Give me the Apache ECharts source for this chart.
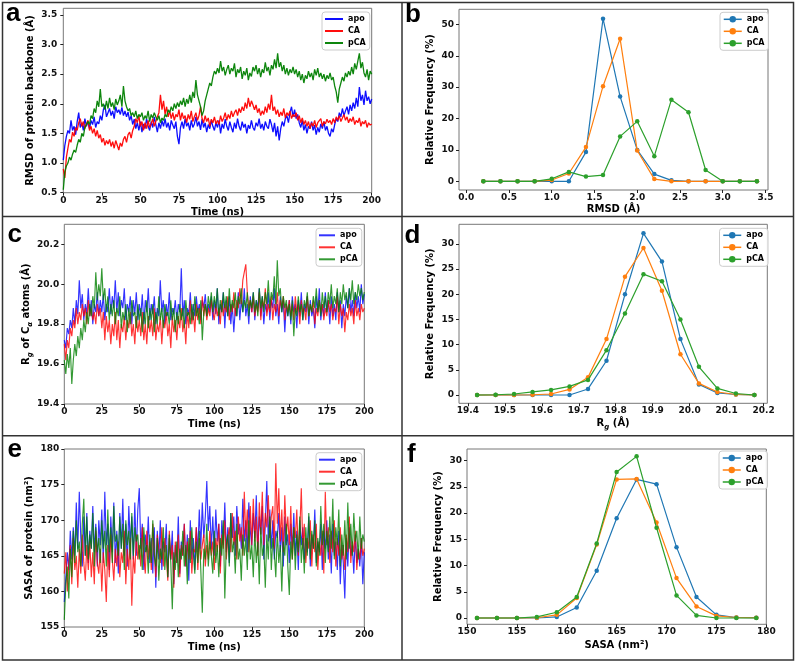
<!DOCTYPE html>
<html><head><meta charset="utf-8">
<script src="https://cdn.jsdelivr.net/npm/echarts@6/dist/echarts.min.js"></script>
<style>html,body{margin:0;padding:0;background:#fff}#c{width:797px;height:663px}</style>
</head><body><div id="c"></div><script>
// ---------------- data ----------------
const groupNames = ['apo', 'CA', 'pCA'];
const timeStepNs = 1; // sampling interval of the time series (0..200 ns)

// (a) RMSD of protein backbone (Å) vs time
const rmsdApo = [
1.05,1.30,1.45,1.55,1.50,1.72,1.55,1.62,1.48,1.70,1.85,1.60,1.68,1.55,1.75,1.62,1.70,1.58,1.72,1.65,1.78,1.60,1.70,1.66,1.80,
1.72,1.90,1.98,1.78,1.85,1.92,1.80,1.88,1.75,1.95,1.85,1.90,1.82,1.94,1.80,1.88,1.78,1.86,1.72,1.80,1.65,1.74,1.58,1.68,1.55,
1.70,1.52,1.66,1.58,1.75,1.62,1.55,1.70,1.60,1.78,1.65,1.52,1.68,1.58,1.72,1.62,1.75,1.60,1.68,1.55,1.72,1.64,1.58,1.70,1.45,
1.32,1.60,1.70,1.58,1.75,1.62,1.68,1.55,1.72,1.60,1.66,1.78,1.62,1.70,1.56,1.74,1.60,1.68,1.52,1.65,1.58,1.72,1.62,1.55,1.68,
1.60,1.72,1.50,1.66,1.58,1.74,1.62,1.55,1.70,1.60,1.52,1.68,1.58,1.75,1.62,1.55,1.70,1.60,1.66,1.50,1.64,1.58,1.72,1.60,1.55,
1.68,1.62,1.75,1.58,1.66,1.55,1.70,1.62,1.58,1.74,1.65,1.52,1.68,1.45,1.62,1.38,1.58,1.70,1.62,1.75,1.80,1.68,1.85,1.95,1.78,
1.90,1.75,1.82,1.68,1.60,1.72,1.55,1.65,1.50,1.62,1.58,1.70,1.55,1.64,1.48,1.60,1.52,1.66,1.58,1.70,1.55,1.62,1.50,1.45,1.58,
1.52,1.65,1.75,1.70,1.85,1.78,1.92,1.80,1.88,1.95,1.82,1.98,1.88,2.02,1.92,2.10,1.95,2.28,2.05,2.15,1.98,2.22,2.05,2.12,2.00,2.08];
const rmsdCA = [
0.90,0.75,1.10,1.25,1.40,1.35,1.52,1.45,1.60,1.55,1.68,1.75,1.62,1.70,1.58,1.66,1.72,1.55,1.62,1.50,1.58,1.45,1.55,1.42,1.48,
1.35,1.42,1.30,1.38,1.32,1.40,1.28,1.36,1.25,1.38,1.30,1.22,1.34,1.28,1.40,1.45,1.35,1.48,1.52,1.42,1.55,1.62,1.75,1.68,1.80,
1.62,1.70,1.55,1.68,1.58,1.72,1.60,1.66,1.75,1.62,1.70,1.78,1.85,2.15,1.90,2.05,1.82,1.95,1.78,1.88,1.75,1.85,1.72,1.82,1.78,
1.90,1.72,1.85,1.75,1.80,1.68,1.82,1.74,1.88,1.70,1.78,1.85,1.72,1.80,1.95,1.75,1.68,1.80,1.70,1.76,1.62,1.74,1.68,1.78,1.66,
1.72,1.65,1.80,1.70,1.76,1.85,1.72,1.82,1.75,1.88,1.78,1.85,1.90,1.80,1.92,1.85,1.95,1.88,2.02,1.92,2.10,1.95,2.05,1.98,1.90,
1.98,1.85,1.92,1.80,1.88,1.82,1.95,1.85,2.00,1.90,2.15,1.88,1.95,1.82,1.90,1.78,1.86,1.80,1.92,1.76,1.85,1.80,1.88,1.75,1.82,
1.78,1.85,1.72,1.80,1.68,1.76,1.65,1.72,1.62,1.70,1.58,1.68,1.62,1.72,1.60,1.68,1.65,1.75,1.62,1.70,1.66,1.74,1.68,1.72,1.65,
1.75,1.68,1.78,1.72,1.80,1.70,1.76,1.82,1.72,1.78,1.68,1.75,1.70,1.78,1.65,1.72,1.68,1.76,1.62,1.70,1.66,1.72,1.60,1.68,1.64,1.66];
const rmsdPCA = [
0.55,0.85,0.95,1.00,1.10,1.05,1.15,1.22,1.18,1.30,1.40,1.35,1.50,1.45,1.60,1.58,1.70,1.65,1.80,1.75,1.92,1.85,2.05,1.95,2.25,
1.95,2.00,1.90,2.05,1.92,2.10,1.95,2.02,1.90,2.08,1.98,2.05,2.15,1.95,2.30,2.05,1.95,1.88,1.92,1.80,1.85,1.78,1.88,1.75,1.82,
1.78,1.85,1.72,1.80,1.75,1.88,1.70,1.82,1.76,1.85,1.78,1.72,1.80,1.68,1.76,1.72,1.82,1.78,1.90,1.85,1.95,1.88,2.00,1.92,2.02,
1.95,2.05,1.98,2.10,1.95,2.08,2.00,2.15,2.02,2.20,2.10,2.40,2.15,2.05,1.95,1.80,1.88,2.05,2.15,2.25,2.35,2.30,2.45,2.55,2.50,
2.60,2.52,2.72,2.55,2.62,2.48,2.58,2.65,2.50,2.60,2.55,2.68,2.45,2.58,2.52,2.62,2.42,2.55,2.48,2.60,2.40,2.52,2.46,2.62,2.55,
2.65,2.50,2.60,2.45,2.58,2.52,2.70,2.55,2.62,2.48,2.65,2.58,2.75,2.60,2.85,2.62,2.70,2.55,2.65,2.50,2.60,2.48,2.58,2.52,2.62,
2.50,2.58,2.45,2.55,2.40,2.50,2.35,2.48,2.42,2.55,2.45,2.52,2.40,2.58,2.48,2.60,2.45,2.52,2.42,2.50,2.38,2.48,2.42,2.52,2.40,
2.45,2.30,2.20,2.02,2.25,2.35,2.45,2.38,2.52,2.45,2.55,2.48,2.62,2.50,2.68,2.58,2.72,2.85,2.60,2.70,2.52,2.45,2.58,2.40,2.55,2.50];

// (b) RMSD distribution
const rmsdBins = [0.2,0.4,0.6,0.8,1.0,1.2,1.4,1.6,1.8,2.0,2.2,2.4,2.6,2.8,3.0,3.2,3.4];
const rmsdFreqApo = [0,0,0,0,0,0,9.3,51.8,27.0,10.0,2.3,0.3,0,0,0,0,0];
const rmsdFreqCA  = [0,0,0,0,0.4,2.5,10.9,30.3,45.4,9.8,0.7,0,0,0,0,0,0];
const rmsdFreqPCA = [0,0,0,0,0.8,3.0,1.5,2.0,14.3,19.1,8.0,26.0,22.0,3.6,0,0,0];

// (c) Radius of gyration of C-alpha atoms (Å) vs time
const rgApo = [
19.72,19.68,19.78,19.75,19.82,19.78,19.88,19.80,19.92,19.85,20.02,19.88,19.95,19.82,19.90,19.85,19.98,19.84,19.92,19.80,19.90,19.86,19.96,19.84,19.92,
19.86,19.95,19.82,19.90,19.86,19.98,19.85,19.94,19.88,20.02,19.86,19.96,19.84,19.92,19.88,19.98,19.82,19.90,19.86,19.94,19.80,19.92,19.85,19.96,19.82,
19.90,19.84,19.95,19.80,19.92,19.86,19.98,19.82,19.90,19.85,19.94,19.80,19.88,19.84,20.02,19.86,19.92,19.80,19.90,19.84,19.96,19.82,19.88,19.85,19.92,
19.82,19.90,19.86,20.08,19.84,19.92,19.80,19.88,19.85,19.96,19.82,19.90,19.84,19.94,19.86,19.90,19.82,19.92,19.88,19.95,19.84,19.90,19.86,19.94,19.82,
19.92,19.85,19.98,19.80,19.90,19.86,19.96,19.78,19.92,19.84,19.94,19.80,19.90,19.76,19.88,19.84,19.96,19.82,19.92,19.86,19.98,19.84,19.90,19.80,19.94,
19.86,19.96,19.82,19.92,19.88,19.98,19.84,19.94,19.80,19.90,19.86,19.96,19.82,19.92,19.88,19.98,19.84,19.90,19.80,19.94,19.86,19.92,19.76,19.90,19.84,
19.92,19.80,19.94,19.86,19.90,19.78,19.92,19.84,19.96,19.82,19.90,19.86,19.94,19.80,19.92,19.84,19.88,19.78,19.94,19.86,19.98,19.82,19.90,19.84,19.96,
19.86,19.92,19.80,19.94,19.84,19.90,19.82,19.96,19.86,19.92,19.78,19.90,19.84,19.94,19.88,19.98,19.86,19.92,19.84,19.96,19.88,19.94,19.86,20.00,19.90,19.95];
const rgCA = [
19.70,19.62,19.72,19.68,19.78,19.74,19.82,19.78,19.88,19.80,19.86,19.82,19.90,19.84,19.88,19.80,19.92,19.84,19.88,19.82,19.86,19.80,19.90,19.84,19.88,
19.78,19.86,19.72,19.84,19.76,19.82,19.70,19.80,19.74,19.86,19.72,19.82,19.68,19.80,19.76,19.84,19.72,19.82,19.78,19.86,19.74,19.80,19.70,19.84,19.76,
19.82,19.74,19.86,19.72,19.80,19.70,19.84,19.76,19.82,19.74,19.88,19.72,19.80,19.76,19.84,19.70,19.82,19.78,19.86,19.74,19.80,19.68,19.84,19.76,19.82,
19.72,19.84,19.78,19.88,19.76,19.82,19.70,19.86,19.78,19.92,19.80,19.86,19.76,19.90,19.82,19.88,19.80,19.94,19.84,19.90,19.82,19.88,19.84,19.92,19.86,
19.82,19.90,19.84,19.88,19.80,19.92,19.84,19.90,19.86,19.94,19.82,19.90,19.86,19.96,19.84,19.92,19.88,19.98,19.90,20.02,20.06,20.10,19.96,19.88,19.92,
19.86,19.94,19.84,19.90,19.86,19.96,19.82,19.92,19.88,19.98,19.84,19.90,19.86,19.94,19.82,19.90,19.86,19.96,19.84,19.92,19.88,19.94,19.82,19.90,19.86,
19.92,19.84,19.90,19.82,19.94,19.86,19.90,19.80,19.92,19.86,19.88,19.82,19.94,19.84,19.90,19.86,19.92,19.80,19.88,19.84,19.92,19.86,19.90,19.82,19.88,
19.84,19.92,19.86,19.90,19.82,19.88,19.86,19.94,19.80,19.90,19.84,19.88,19.76,19.86,19.82,19.90,19.84,19.88,19.80,19.92,19.84,19.88,19.82,19.90,19.86,19.88];
const rgPCA = [
19.62,19.55,19.65,19.58,19.68,19.50,19.62,19.70,19.64,19.74,19.68,19.78,19.72,19.82,19.76,19.86,19.80,19.90,19.84,19.94,19.88,20.06,19.92,20.00,19.94,
20.08,19.92,19.98,19.86,19.94,19.82,19.90,19.84,19.92,19.80,19.88,19.84,19.94,19.78,19.86,19.82,19.90,19.76,19.88,19.80,19.92,19.84,19.86,19.78,19.90,
19.82,19.88,19.76,19.86,19.80,19.92,19.78,19.88,19.82,19.90,19.76,19.86,19.80,19.94,19.82,19.88,19.78,19.90,19.84,19.86,19.80,19.92,19.82,19.88,19.76,
19.86,19.80,19.90,19.82,19.88,19.78,19.92,19.84,19.86,19.80,19.90,19.82,19.94,19.84,19.88,19.80,19.92,19.72,19.86,19.90,19.84,19.94,19.88,19.96,19.86,
19.94,19.88,19.98,19.84,19.92,19.86,19.96,19.88,19.94,19.84,19.98,19.86,19.92,19.88,19.96,19.84,19.94,19.90,19.98,19.86,19.92,19.88,19.96,19.84,19.92,
19.88,19.96,19.86,19.92,19.84,19.98,19.88,19.94,19.86,19.96,19.90,20.02,19.88,19.96,19.92,20.04,19.90,20.12,19.94,19.98,19.86,19.94,19.88,19.92,19.84,
19.90,19.82,19.92,19.74,19.88,19.84,19.94,19.86,19.90,19.82,19.92,19.88,19.96,19.84,19.90,19.86,19.94,19.88,19.98,19.86,19.92,19.84,19.96,19.88,19.94,
19.86,19.96,19.90,20.00,19.88,19.94,19.90,19.98,19.86,19.96,19.90,20.00,19.92,19.96,19.88,19.98,19.92,20.02,19.90,19.96,19.92,20.00,19.94,19.98,19.92,19.96];

// (d) Rg distribution
const rgBins = [19.425,19.475,19.525,19.575,19.625,19.675,19.725,19.775,19.825,19.875,19.925,19.975,20.025,20.075,20.125,20.175];
const rgFreqApo = [0,0,0,0,0,0,1.2,6.8,20.0,32.1,26.5,11.1,2.1,0.4,0.1,0];
const rgFreqCA  = [0,0,0,0.05,0.2,1.1,3.5,11.1,23.5,29.2,20.7,8.1,2.3,0.6,0.1,0];
const rgFreqPCA = [0,0.05,0.2,0.6,1.0,1.7,3.0,8.9,16.2,24.0,22.6,15.0,5.6,1.3,0.3,0];

// (e) SASA of protein (nm²) vs time
const sasaApo = [
158.5,162.0,165.5,163.0,168.5,164.5,169.0,165.0,172.5,166.0,174.0,167.5,163.5,170.5,165.0,171.0,164.0,168.5,166.0,172.0,165.5,169.5,163.5,170.0,166.5,
171.5,164.0,174.0,166.5,169.5,163.0,170.5,165.5,172.5,164.0,168.5,162.5,171.0,166.0,173.0,165.0,169.5,163.5,172.0,166.5,170.5,164.5,172.5,165.0,171.5,
174.5,166.0,169.5,163.0,168.0,165.5,170.5,164.0,167.5,162.5,169.0,160.5,168.5,164.5,170.0,163.0,167.0,165.5,169.5,162.0,167.5,164.5,168.5,161.0,166.5,
164.0,170.5,162.5,167.0,165.0,169.5,163.5,168.0,161.5,170.0,164.5,167.5,163.0,169.0,165.5,171.5,166.0,172.5,167.5,170.5,175.5,168.5,172.0,166.0,170.5,
165.0,171.5,167.0,169.5,163.5,170.0,166.5,172.5,165.5,169.0,164.0,171.0,167.5,170.5,165.0,172.0,168.0,169.5,166.0,173.0,167.0,170.0,165.5,172.5,168.5,
166.5,171.0,167.5,173.5,165.5,170.5,168.0,172.0,164.5,169.5,175.5,167.0,171.5,166.0,170.0,164.5,168.5,167.5,171.0,165.5,169.0,163.5,170.5,166.5,168.0,
164.0,169.5,166.0,171.0,165.0,168.5,163.0,170.0,166.5,169.0,164.5,167.5,165.5,170.5,163.5,168.0,166.0,171.5,164.0,167.0,165.5,169.5,163.0,168.5,166.0,
170.0,164.5,168.0,162.5,169.5,165.0,167.0,163.0,168.5,161.0,166.5,164.0,159.0,167.5,163.5,169.0,165.0,166.5,162.5,168.0,164.0,166.0,163.5,167.5,161.0,165.5];
const sasaCA = [
162.5,165.5,160.0,164.0,166.5,161.0,167.5,163.0,165.0,160.5,166.0,162.5,168.0,164.0,161.5,166.5,163.0,167.0,162.0,165.5,161.0,168.5,164.0,162.5,166.0,
160.0,165.5,163.0,158.5,166.5,162.0,168.0,164.5,161.5,166.0,163.5,167.0,162.0,165.5,164.0,168.5,161.0,166.0,163.0,167.5,158.0,165.0,162.5,168.0,164.5,
166.5,163.5,169.0,165.0,162.5,168.5,164.5,167.0,163.0,169.5,165.5,162.0,168.0,166.0,164.0,169.0,163.5,167.5,165.0,161.5,168.5,164.5,166.5,160.5,167.0,
164.0,168.0,162.0,166.5,165.0,169.5,163.5,167.0,164.5,168.5,162.5,166.0,165.5,169.0,163.0,167.5,164.5,166.5,168.0,163.5,166.5,164.5,168.5,165.0,167.0,
163.0,167.5,165.5,169.5,162.5,168.0,166.0,170.0,164.5,167.5,169.0,165.5,171.0,166.5,168.5,164.5,170.5,167.0,169.0,165.0,174.0,167.5,171.5,165.5,172.0,
166.5,173.0,167.0,170.5,165.0,172.5,168.0,174.0,166.5,171.0,169.0,173.5,167.5,170.5,172.0,166.0,178.0,169.5,174.5,167.0,171.5,165.5,173.5,168.0,170.5,
166.5,172.0,164.5,169.0,167.5,171.5,165.0,168.5,174.5,166.0,169.5,164.0,167.5,166.0,170.0,163.5,168.0,165.5,169.5,163.0,167.0,165.0,168.5,162.5,174.0,
166.5,169.0,164.0,168.5,165.5,170.0,163.5,167.5,165.0,169.0,164.5,166.5,163.0,168.0,165.5,170.5,164.0,167.0,165.5,168.5,163.0,166.0,164.5,167.5,165.0,166.0];
const sasaPCA = [
156.0,161.0,163.5,159.0,166.0,162.0,168.5,164.0,170.0,165.5,167.0,163.5,169.5,173.0,165.0,170.5,164.5,168.0,166.0,171.0,163.5,169.0,165.5,167.5,164.0,
170.0,166.0,168.5,163.5,171.5,165.5,169.0,164.0,172.0,167.0,168.0,165.0,170.5,166.0,169.5,163.0,170.0,166.5,168.5,164.5,171.0,165.0,169.0,167.0,168.0,
164.5,167.5,163.0,169.0,165.5,166.5,162.5,168.0,164.0,170.0,165.0,163.5,167.5,161.5,166.0,164.5,169.0,163.0,166.5,162.0,168.0,164.0,157.5,165.5,163.0,
167.0,162.0,166.0,164.5,168.5,163.5,166.5,161.0,167.5,164.0,169.0,165.5,162.5,167.0,164.0,168.5,163.0,157.0,166.0,164.5,169.5,163.5,167.0,165.0,162.5,
168.5,164.0,166.5,162.0,167.5,165.0,170.0,159.0,166.5,168.0,163.5,171.0,165.5,167.0,162.5,169.5,164.5,166.0,161.5,168.0,165.0,167.5,163.0,170.0,164.5,
166.5,162.0,168.5,164.0,167.0,161.0,169.0,165.0,166.5,160.5,168.0,164.5,170.5,163.0,167.5,165.5,162.0,168.5,164.0,166.5,160.0,167.0,165.0,169.5,163.5,
159.5,167.0,164.5,169.0,163.0,168.0,165.5,170.5,164.0,167.5,162.5,169.0,165.0,171.0,164.5,168.5,166.0,170.0,163.5,167.5,165.0,172.0,166.5,169.5,164.0,
168.5,165.5,170.5,166.0,173.0,164.5,169.0,166.5,171.5,163.5,168.0,165.0,170.0,164.5,172.5,166.0,169.5,165.0,171.0,167.0,168.5,164.5,170.5,166.0,168.0,167.0];

// (f) SASA distribution
const sasaBins = [151,153,155,157,159,161,163,165,167,169,171,173,175,177,179];
const sasaFreqApo = [0,0,0,0,0.2,2.0,9.0,19.0,26.4,25.5,13.5,4.0,0.6,0.1,0.05];
const sasaFreqCA  = [0,0,0,0.05,0.6,3.8,14.0,26.4,26.5,18.2,7.6,2.2,0.4,0.1,0.05];
const sasaFreqPCA = [0,0,0,0.2,1.1,4.0,14.2,27.8,30.8,17.2,4.3,0.5,0,0,0];

// tick labels
const timeTicks = [0,25,50,75,100,125,150,175,200];
const rmsdTicks = [0.5,1.0,1.5,2.0,2.5,3.0,3.5];
const rmsdBinTicks = [0.0,0.5,1.0,1.5,2.0,2.5,3.0,3.5];
const freqTicksB = [0,10,20,30,40,50];
const rgTicks = [19.4,19.6,19.8,20.0,20.2];
const rgBinTicks = [19.4,19.5,19.6,19.7,19.8,19.9,20.0,20.1,20.2];
const freqTicksDF = [0,5,10,15,20,25,30];
const sasaTicks = [155,160,165,170,175,180];
const sasaBinTicks = [150,155,160,165,170,175,180];

// ---------------- chart ----------------
const FONT = 'DejaVu Sans';
const tsColors = ['#0000ff', '#ff0000', '#008000'];
const distColors = ['#1f77b4', '#ff7f0e', '#2ca02c'];
const subRich = {sub: {fontFamily: FONT, fontWeight: 'bold', fontStyle: 'italic', fontSize: 7, lineHeight: 6, verticalAlign: 'bottom', color: '#000'}};

function mkAxis(g, min, max, ticks, dec, name, gap, margin, rich) {
  const nts = {fontFamily: FONT, fontWeight: 'bold', fontSize: 10, color: '#000', lineHeight: 14};
  if (rich) nts.rich = rich;
  return {
    type: 'value', gridIndex: g, min: min, max: max,
    name: name, nameLocation: 'middle', nameGap: gap, nameTextStyle: nts,
    axisLine: {show: false, onZero: false},
    axisTick: {show: true, length: 3, customValues: ticks, lineStyle: {color: '#222', width: 1}},
    axisLabel: {show: true, margin: margin, customValues: ticks, hideOverlap: false,
      formatter: function (v) { return (+v).toFixed(dec); },
      fontFamily: FONT, fontWeight: 'bold', fontSize: 9, color: '#111'},
    splitLine: {show: false}
  };
}
function mkGrid(left, top, width, height) {
  return {left: left, top: top, width: width, height: height, show: true, borderColor: '#777', borderWidth: 1,
    backgroundColor: 'transparent', containLabel: false, outerBoundsMode: 'none'};
}
function mkLegend(prefix, left, top, iw, plainLine) {
  return {
    show: true, orient: 'vertical', left: left, top: top, align: 'left', selectedMode: false,
    data: groupNames.map(function (n) { return plainLine ? {name: prefix + n, icon: 'rect'} : prefix + n; }),
    formatter: function (n) { return n.slice(prefix.length); },
    itemWidth: iw, itemHeight: plainLine ? 2 : 8, itemGap: 2, padding: [2, 4, 2, 3],
    borderColor: '#cccccc', borderWidth: 1, borderRadius: 3, backgroundColor: 'rgba(255,255,255,0.85)',
    textStyle: {fontFamily: FONT, fontWeight: 'bold', fontSize: 8, color: '#000', lineHeight: 10},
    lineStyle: {width: 1.5}
  };
}
function tsSeries(g, prefix, arrays, opacity, width) {
  return arrays.map(function (vals, k) {
    return {
      type: 'line', name: prefix + groupNames[k], xAxisIndex: g, yAxisIndex: g,
      data: vals.map(function (v, i) { return [i * timeStepNs, v]; }),
      symbol: 'none', showSymbol: false, sampling: 'none', animation: false,
      lineStyle: {color: tsColors[k], width: width, opacity: opacity},
      itemStyle: {color: tsColors[k], opacity: opacity},
      emphasis: {disabled: true}, z: 2 + k
    };
  });
}
function distSeries(g, prefix, bins, arrays) {
  return arrays.map(function (vals, k) {
    return {
      type: 'line', name: prefix + groupNames[k], xAxisIndex: g, yAxisIndex: g,
      data: bins.map(function (b, i) { return [b, vals[i]]; }),
      symbol: 'circle', symbolSize: 4.5, showSymbol: true, animation: false, clip: false,
      lineStyle: {color: distColors[k], width: 1.2},
      itemStyle: {color: distColors[k]},
      emphasis: {disabled: true}, z: 2 + k
    };
  });
}
function letter(t, x, y) {
  return {type: 'text', x: x, y: y, silent: true, z: 100,
    style: {text: t, font: 'bold 26px "Liberation Sans", Arial, sans-serif', fill: '#000',
      textAlign: 'left', textVerticalAlign: 'middle', verticalAlign: 'middle'}};
}
const border = {stroke: '#333', lineWidth: 1.5};

const option = {
  animation: false,
  backgroundColor: '#ffffff',
  grid: [
    mkGrid(63.3, 8.3, 308.4, 184.4),
    mkGrid(459, 9.3, 309, 180.7),
    mkGrid(64.3, 224.3, 300, 179.7),
    mkGrid(459, 224.3, 308.3, 179),
    mkGrid(64.3, 449, 300, 178),
    mkGrid(467, 449, 299.3, 175.3)
  ],
  xAxis: [
    mkAxis(0, 0, 200, timeTicks, 0, 'Time (ns)', 11.5, 3),
    mkAxis(1, -0.085, 3.53, rmsdBinTicks, 1, 'RMSD (Å)', 12.5, 3),
    mkAxis(2, 0, 200, timeTicks, 0, 'Time (ns)', 13, 3),
    mkAxis(3, 19.376, 20.21, rgBinTicks, 1, 'R{sub|g} (Å)', 13.5, 3, subRich),
    mkAxis(4, 0, 200, timeTicks, 0, 'Time (ns)', 13, 3),
    mkAxis(5, 150, 180, sasaBinTicks, 0, 'SASA (nm²)', 14.5, 3)
  ],
  yAxis: [
    mkAxis(0, 0.5, 3.61, rmsdTicks, 1, 'RMSD of protein backbone (Å)', 19, 6),
    mkAxis(1, -2.77, 54.8, freqTicksB, 0, 'Relative Frequency (%)', 10, 5),
    mkAxis(2, 19.4, 20.3, rgTicks, 1, 'R{sub|g} of C{sub|α} atoms (Å)', 24, 5, subRich),
    mkAxis(3, -1.65, 33.9, freqTicksDF, 0, 'Relative Frequency (%)', 9, 5),
    mkAxis(4, 155, 180, sasaTicks, 0, 'SASA of protein (nm²)', 22, 5),
    mkAxis(5, -1.2, 32.2, freqTicksDF, 0, 'Relative Frequency (%)', 17, 5)
  ],
  legend: [
    mkLegend('a:', 322, 12, 18, true),
    mkLegend('b:', 720, 12.3, 18, false),
    mkLegend('c:', 316, 228.3, 16, true),
    mkLegend('d:', 719.5, 228.3, 18, false),
    mkLegend('e:', 316, 452.7, 16, true),
    mkLegend('f:', 719, 451, 18, false)
  ],
  series: [].concat(
    tsSeries(0, 'a:', [rmsdApo, rmsdCA, rmsdPCA], 0.95, 1.3),
    distSeries(1, 'b:', rmsdBins, [rmsdFreqApo, rmsdFreqCA, rmsdFreqPCA]),
    tsSeries(2, 'c:', [rgApo, rgCA, rgPCA], 0.8, 1.15),
    distSeries(3, 'd:', rgBins, [rgFreqApo, rgFreqCA, rgFreqPCA]),
    tsSeries(4, 'e:', [sasaApo, sasaCA, sasaPCA], 0.8, 1.15),
    distSeries(5, 'f:', sasaBins, [sasaFreqApo, sasaFreqCA, sasaFreqPCA])
  ),
  graphic: [
    {type: 'rect', silent: true, z: 90, shape: {x: 2.5, y: 2.5, width: 791, height: 657.5}, style: {fill: 'none', stroke: '#333', lineWidth: 1.5}},
    {type: 'line', silent: true, z: 90, shape: {x1: 402, y1: 2.5, x2: 402, y2: 660}, style: border},
    {type: 'line', silent: true, z: 90, shape: {x1: 2.5, y1: 216.5, x2: 793.5, y2: 216.5}, style: border},
    {type: 'line', silent: true, z: 90, shape: {x1: 2.5, y1: 435.7, x2: 793.5, y2: 435.7}, style: border},
    letter('a', 6, 13.5),
    letter('b', 405, 14.5),
    letter('c', 7.5, 234.5),
    letter('d', 404.5, 236),
    letter('e', 7.5, 449.5),
    letter('f', 407, 455)
  ]
};
const chart = echarts.init(document.getElementById('c'), null, {renderer: 'canvas'});
chart.setOption(option);
</script></body></html>
